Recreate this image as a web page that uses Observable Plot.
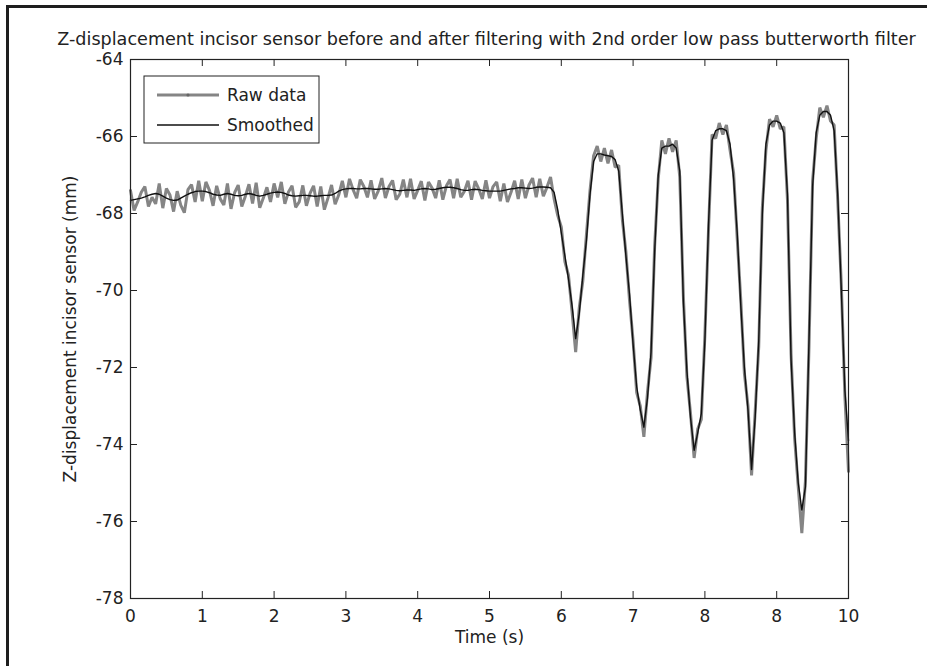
<!DOCTYPE html>
<html><head><meta charset="utf-8">
<script src="https://cdn.jsdelivr.net/npm/d3@7"></script>
<script src="https://cdn.jsdelivr.net/npm/@observablehq/plot@0.6"></script>
<style>
html,body{margin:0;padding:0;background:#fff;overflow:hidden;}
#wrap{position:relative;width:927px;height:666px;}
#border{position:absolute;left:6px;top:5px;width:960px;height:720px;border-left:3px solid #1e1e1e;border-top:3px solid #1e1e1e;pointer-events:none;}
</style></head><body><div id="wrap"><div id="chart"></div><div id="border"></div></div>
<script>
// ---------- data ----------
const titleText = "Z-displacement incisor sensor before and after filtering with 2nd order low pass butterworth filter";
const xLabel = "Time (s)";
const yLabel = "Z-displacement incisor sensor (mm)";
const seriesNames = ["Raw data", "Smoothed"];
const xTicks = [0,1,2,3,4,5,6,7,8,9,10];
const xTickLabels = ["0","1","2","3","4","5","6","7","8","8","10"];
const yTicks = [-78,-76,-74,-72,-70,-68,-66,-64];
const yTickLabels = ["-78","-76","-74","-72","-70","-68","-66","-64"];

// sample times (s), 0.05 s apart, 0 .. 10
const time = d3.range(201).map(i => +(i * 0.05).toFixed(2));

const smoothed = [
  -67.66,-67.64,-67.62,-67.60,-67.57,-67.53,-67.50,-67.48,-67.50,-67.55,
  -67.60,-67.64,-67.66,-67.65,-67.60,-67.55,-67.50,-67.46,-67.43,-67.42,
  -67.42,-67.43,-67.46,-67.50,-67.52,-67.53,-67.50,-67.48,-67.50,-67.53,
  -67.54,-67.53,-67.50,-67.48,-67.50,-67.53,-67.55,-67.53,-67.50,-67.47,
  -67.45,-67.44,-67.45,-67.48,-67.52,-67.54,-67.55,-67.54,-67.53,-67.53,
  -67.54,-67.55,-67.55,-67.54,-67.53,-67.53,-67.52,-67.48,-67.42,-67.38,
  -67.36,-67.35,-67.35,-67.36,-67.36,-67.35,-67.35,-67.36,-67.37,-67.37,
  -67.36,-67.35,-67.36,-67.38,-67.40,-67.41,-67.40,-67.39,-67.39,-67.40,
  -67.38,-67.36,-67.35,-67.36,-67.38,-67.37,-67.35,-67.33,-67.32,-67.32,
  -67.33,-67.35,-67.38,-67.40,-67.40,-67.38,-67.37,-67.38,-67.40,-67.41,
  -67.42,-67.42,-67.42,-67.42,-67.40,-67.38,-67.36,-67.35,-67.33,-67.33,
  -67.34,-67.35,-67.34,-67.32,-67.31,-67.31,-67.32,-67.33,-67.45,-67.90,
  -68.50,-69.10,-69.70,-70.40,-71.25,-70.60,-69.60,-68.70,-67.50,-66.65,
  -66.45,-66.45,-66.48,-66.50,-66.52,-66.60,-66.90,-68.00,-69.10,-70.10,
  -71.40,-72.50,-73.10,-73.55,-72.80,-71.60,-69.00,-67.00,-66.30,-66.25,
  -66.25,-66.20,-66.30,-66.90,-70.30,-72.10,-73.30,-74.15,-73.70,-73.20,
  -71.30,-68.30,-66.10,-65.85,-65.80,-65.80,-65.85,-66.20,-67.10,-68.50,
  -70.40,-72.00,-73.10,-74.65,-73.30,-71.30,-68.00,-66.20,-65.70,-65.60,
  -65.60,-65.65,-65.90,-67.50,-71.80,-73.70,-75.00,-75.70,-75.10,-71.30,
  -67.30,-65.90,-65.45,-65.35,-65.35,-65.45,-65.85,-67.50,-70.00,-72.60,
  -73.90
];

const raw = [
  -67.40,-67.92,-67.70,-67.45,-67.30,-67.82,-67.58,-67.75,-67.22,-67.86,
  -67.35,-67.52,-67.95,-67.42,-67.78,-67.98,-67.38,-67.25,-67.70,-67.15,
  -67.68,-67.18,-67.40,-67.80,-67.28,-67.62,-67.78,-67.22,-67.88,-67.46,
  -67.26,-67.82,-67.55,-67.24,-67.74,-67.20,-67.85,-67.60,-67.32,-67.70,
  -67.22,-67.58,-67.18,-67.75,-67.44,-67.28,-67.84,-67.70,-67.27,-67.80,
  -67.48,-67.28,-67.82,-67.30,-67.90,-67.60,-67.26,-67.76,-67.52,-67.15,
  -67.58,-67.10,-67.38,-67.60,-67.12,-67.30,-67.58,-67.14,-67.62,-67.42,
  -67.08,-67.60,-67.30,-67.14,-67.64,-67.50,-67.12,-67.58,-67.10,-67.62,
  -67.40,-67.16,-67.66,-67.18,-67.34,-67.60,-67.14,-67.64,-67.28,-67.12,
  -67.60,-67.10,-67.58,-67.42,-67.15,-67.64,-67.16,-67.36,-67.62,-67.14,
  -67.60,-67.30,-67.18,-67.68,-67.22,-67.70,-67.45,-67.15,-67.62,-67.12,
  -67.60,-67.26,-67.08,-67.58,-67.10,-67.55,-67.32,-67.05,-67.62,-68.05,
  -68.35,-69.25,-69.60,-70.55,-71.60,-70.45,-69.75,-68.55,-67.40,-66.50,
  -66.25,-66.65,-66.30,-66.70,-66.35,-66.80,-66.75,-68.15,-69.00,-70.25,
  -71.30,-72.65,-73.00,-73.80,-72.65,-71.75,-68.85,-67.10,-66.10,-66.45,
  -66.05,-66.40,-66.10,-67.05,-70.15,-72.25,-73.20,-74.35,-73.60,-73.35,
  -71.15,-68.45,-65.95,-66.05,-65.65,-65.95,-65.70,-66.35,-66.95,-68.65,
  -70.25,-72.15,-73.00,-74.80,-73.15,-71.45,-67.85,-66.35,-65.55,-65.75,
  -65.45,-65.80,-65.75,-67.65,-71.65,-73.85,-75.10,-76.30,-74.95,-71.45,
  -67.15,-66.05,-65.25,-65.50,-65.20,-65.60,-65.70,-67.65,-69.85,-72.75,
  -74.70
];

const rows = time.map((t, i) => ({t, raw: raw[i], smooth: smoothed[i]}));

const rawColor = "#858585";
const smoothColor = "#111111";
const FONT = "DejaVu Sans";

function legendMark(index, scales, values, dims) {
  const x0 = dims.marginLeft + 14, y0 = dims.marginTop + 17;
  const g = d3.create("svg:g").attr("font-family", FONT).attr("font-size", 17)
    .attr("fill", "#222").attr("text-anchor", "start");
  g.append("rect").attr("x", x0).attr("y", y0).attr("width", 175).attr("height", 67)
    .attr("fill", "white").attr("stroke", "#222").attr("stroke-width", 1);
  const styles = [{c: rawColor, w: 3, marker: true}, {c: smoothColor, w: 1.4, marker: false}];
  seriesNames.forEach((name, i) => {
    const cy = y0 + 19 + i * 30;
    g.append("line").attr("x1", x0 + 13).attr("x2", x0 + 75).attr("y1", cy).attr("y2", cy)
      .attr("stroke", styles[i].c).attr("stroke-width", styles[i].w);
    if (styles[i].marker) g.append("circle").attr("cx", x0 + 44).attr("cy", cy).attr("r", 1.6).attr("fill", "#666");
    g.append("text").attr("x", x0 + 83).attr("y", cy).attr("dy", "0.36em").text(name);
  });
  return g.node();
}

const W = 927, H = 666, mL = 130, mR = 79, mT = 59, mB = 68;
const innerH = H - mT - mB, innerW = W - mL - mR, TL = 7;

const chart = Plot.plot({
  width: W, height: H,
  marginLeft: mL, marginRight: mR, marginTop: mT, marginBottom: mB,
  style: {fontFamily: FONT, fontSize: "17px", color: "#222", background: "white"},
  x: {domain: [0, 10]},
  y: {domain: [-78, -64]},
  marks: [
    Plot.line(rows, {x: "t", y: "raw", stroke: rawColor, strokeWidth: 3, strokeLinejoin: "miter"}),
    Plot.line(rows, {x: "t", y: "smooth", stroke: smoothColor, strokeWidth: 1.4}),
    Plot.frame({stroke: "#222", strokeWidth: 1.2}),
    Plot.tickX(xTicks, {x: d => d, insetTop: innerH - TL, stroke: "#222"}),
    Plot.tickX(xTicks, {x: d => d, insetBottom: innerH - TL, stroke: "#222"}),
    Plot.tickY(yTicks, {y: d => d, insetRight: innerW - TL, stroke: "#222"}),
    Plot.tickY(yTicks, {y: d => d, insetLeft: innerW - TL, stroke: "#222"}),
    Plot.axisX(xTicks, {tickSize: 0, tickPadding: 11, tickFormat: d => xTickLabels[xTicks.indexOf(d)], label: null, fontSize: 17}),
    Plot.axisY(yTicks, {tickSize: 0, tickPadding: 7, tickFormat: d => yTickLabels[yTicks.indexOf(d)], label: null, fontSize: 17}),
    Plot.text([titleText], {text: d => d, frameAnchor: "top", dx: -3, dy: -27, fontSize: 17.6, fill: "#222"}),
    Plot.text([xLabel], {text: d => d, frameAnchor: "bottom", dy: 44, fontSize: 17, fill: "#222"}),
    Plot.text([yLabel], {text: d => d, frameAnchor: "left", textAnchor: "middle", dx: -60, rotate: -90, fontSize: 17, fill: "#222"}),
    legendMark
  ]
});
document.getElementById("chart").appendChild(chart);
</script></body></html>
